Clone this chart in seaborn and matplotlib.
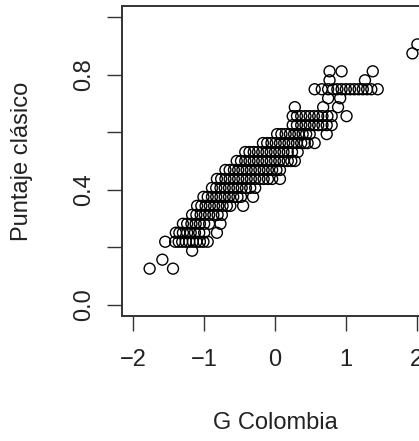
import matplotlib
matplotlib.use("Agg")
import matplotlib.pyplot as plt
import seaborn as sns
import pandas as pd

# ---- data (score levels k/32, G Colombia per level) ----
score_levels = [0.125, 0.15625, 0.1875, 0.21875, 0.25, 0.28125, 0.3125, 0.34375,
                0.375, 0.40625, 0.4375, 0.46875, 0.5, 0.53125, 0.5625, 0.59375,
                0.625, 0.65625, 0.6875, 0.71875, 0.75, 0.78125, 0.8125, 0.875, 0.90625]

g_04 = [-1.77, -1.44]
g_05 = [-1.59]
g_06 = [-1.17]
g_07 = [-1.55, -1.41, -1.36, -1.31, -1.26, -1.21, -1.16, -1.11, -1.06, -1.01, -0.95]
g_08 = [-1.40, -1.35, -1.30, -1.24, -1.19, -1.13, -1.07, -1.00, -0.82]
g_09 = [-1.30, -1.24, -1.18, -1.12, -1.06, -1.00, -0.93, -0.77]
g_10 = [-1.17, -1.11, -1.05, -0.99, -0.93, -0.87, -0.81, -0.75]
g_11 = [-1.10, -1.04, -0.98, -0.92, -0.86, -0.80, -0.74, -0.68, -0.63, -0.45]
g_12 = [-1.01, -0.95, -0.89, -0.83, -0.77, -0.71, -0.65, -0.59, -0.53, -0.48, -0.31]
g_13 = [-0.89, -0.83, -0.77, -0.71, -0.65, -0.59, -0.53, -0.47, -0.41, -0.35, -0.28]
g_14 = [-0.82, -0.76, -0.70, -0.64, -0.58, -0.52, -0.46, -0.40, -0.34, -0.28, -0.22,
        -0.16, -0.10, -0.04, 0.07]
g_15 = [-0.70, -0.64, -0.58, -0.52, -0.46, -0.40, -0.34, -0.28, -0.22, -0.16, -0.10,
        -0.04, 0.02, 0.07]
g_16 = [-0.54, -0.48, -0.42, -0.36, -0.30, -0.24, -0.18, -0.12, -0.06, 0.00, 0.06,
        0.12, 0.18, 0.23, 0.28]
g_17 = [-0.42, -0.36, -0.30, -0.24, -0.18, -0.12, -0.06, 0.00, 0.06, 0.12, 0.18,
        0.24, 0.32]
g_18 = [-0.17, -0.11, -0.05, 0.01, 0.07, 0.13, 0.19, 0.25, 0.31, 0.37, 0.42, 0.46, 0.56]
g_19 = [0.03, 0.09, 0.15, 0.21, 0.27, 0.33, 0.39, 0.44, 0.49, 0.73]
g_20 = [0.25, 0.31, 0.37, 0.43, 0.49, 0.55, 0.61, 0.67, 0.73, 0.80]
g_21 = [0.25, 0.31, 0.37, 0.43, 0.49, 0.55, 0.61, 0.67, 0.74, 0.80, 1.01]
g_22 = [0.28, 0.68, 0.89]
g_23 = [0.75, 0.92]
g_24 = [0.56, 0.66, 0.75, 0.82, 0.88, 0.94, 1.00, 1.06, 1.12, 1.18, 1.24, 1.30, 1.36, 1.45]
g_25 = [0.77, 1.27]
g_26 = [0.77, 0.94, 1.38]
g_28 = [1.94]
g_29 = [2.01]

g_rows = [g_04, g_05, g_06, g_07, g_08, g_09, g_10, g_11, g_12, g_13, g_14, g_15,
          g_16, g_17, g_18, g_19, g_20, g_21, g_22, g_23, g_24, g_25, g_26, g_28, g_29]

x_ticks = [-2, -1, 0, 1, 2]
x_ticklabels = ["\u22122", "\u22121", "0", "1", "2"]
y_ticks = [0.0, 0.2, 0.4, 0.6, 0.8, 1.0]
y_ticklabels = ["0.0", "", "0.4", "", "0.8", ""]

records = []
for lvl, xs in zip(score_levels, g_rows):
    for xv in xs:
        records.append((xv, lvl))
df = pd.DataFrame(records, columns=["G Colombia", "Puntaje clásico"])

# ---- plotting ----
sns.set_style("ticks")
plt.rcParams["font.family"] = ["Liberation Sans", "DejaVu Sans"]

fig = plt.figure(figsize=(4.19, 4.41), dpi=100)
ax = fig.add_axes([122 / 419, 125 / 441, 306 / 419, 310 / 441])

sns.scatterplot(data=df, x="G Colombia", y="Puntaje clásico", ax=ax,
                marker="o", s=62, linewidth=1.0, legend=False)
coll = ax.collections[0]
coll.set_facecolor("none")
coll.set_edgecolor("black")
coll.set_linewidth(1.0)

ax.set_xlim(-2.16, 2.16)
ax.set_ylim(-0.04, 1.04)
ax.set_xticks(x_ticks)
ax.set_xticklabels(x_ticklabels)
ax.set_yticks(y_ticks)
ax.set_yticklabels(y_ticklabels, rotation=90, va="center")

for sp in ax.spines.values():
    sp.set_visible(True)
    sp.set_color("#333333")
    sp.set_linewidth(1.4)

ax.tick_params(axis="both", direction="out", length=11, width=1.0,
               color="#333333", labelsize=17, labelcolor="#222222")
ax.tick_params(axis="x", pad=13)
ax.tick_params(axis="y", pad=8)

ax.set_xlabel("G Colombia", fontsize=17, color="#222222")
ax.set_ylabel("Puntaje clásico", fontsize=17, color="#222222")
ax.xaxis.set_label_coords(0.5, -0.311)
ax.yaxis.set_label_coords(-0.291, 0.5)
ax.grid(False)

fig.savefig("out.png", dpi=100)
